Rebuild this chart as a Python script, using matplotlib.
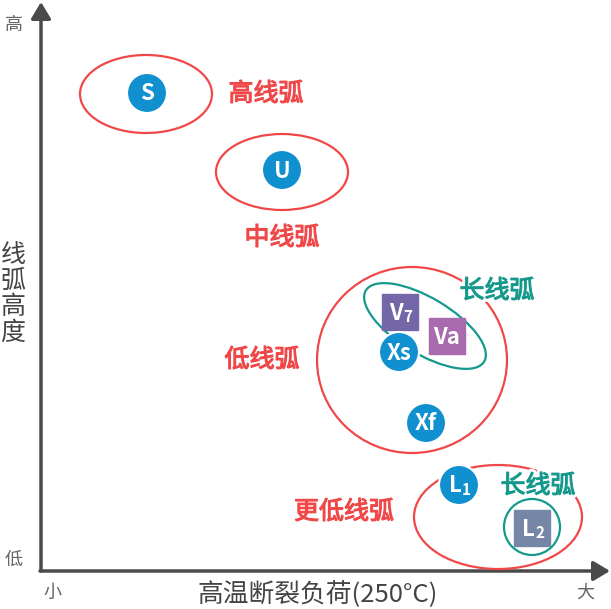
import matplotlib.pyplot as plt
from matplotlib.patches import Ellipse, Circle, Rectangle, FancyArrowPatch
import matplotlib.patheffects as pe

plt.rcParams['font.family'] = ['Noto Sans CJK SC', 'DejaVu Sans']

RED = '#f04848'
TEAL = '#14998c'
BLUE = '#1190d0'
AXIS = '#4a4a4a'

# grade markers: name, subscript, shape, x (load), y (arc height), colour
names = ['S', 'U', 'V', 'V', 'X', 'X', 'L', 'L']
subs = ['', '', '7', 'a', 's', 'f', '1', '2']
shapes = ['o', 'o', 's', 's', 'o', 'o', 'o', 's']
mx = [147, 282, 400, 447, 399, 426, 459, 532]
my = [93, 170, 312, 336, 352, 423, 485, 528]
mcol = [BLUE, BLUE, '#7467a8', '#a96aae', BLUE, BLUE, BLUE, '#7686a6']
# labels sitting in the text after the main letter at full size
inline = [False, False, False, True, True, True, False, False]

# group outlines: x, y, width, height, angle, colour
gx = [146, 282, 412, 425, 498, 532]
gy = [94, 172, 360, 326, 517, 527]
gw = [132, 132, 190, 138, 168, 56]
gh = [78, 76, 186, 56, 104, 56]
ga = [0, 0, 0, 31, 0, 0]
gc = [RED, RED, RED, TEAL, RED, TEAL]

# group labels
lab = ['高线弧', '中线弧', '低线弧', '长线弧', '更低线弧', '长线弧']
lx = [266, 282, 262, 497, 344, 538]
ly = [94, 238, 360, 291, 512, 486]
lc = [RED, RED, RED, TEAL, RED, TEAL]

fig = plt.figure(figsize=(6.11, 6.09), dpi=100)
ax = fig.add_axes([0, 0, 1, 1])
ax.set_xlim(0, 611)
ax.set_ylim(609, 0)
ax.axis('off')

# axes with arrows
ax.add_patch(FancyArrowPatch((41, 571), (41, 2), arrowstyle='-|>,head_length=10,head_width=6',
                             color=AXIS, lw=2.5, shrinkA=0, shrinkB=0))
ax.add_patch(FancyArrowPatch((40, 571), (610, 571), arrowstyle='-|>,head_length=10,head_width=6',
                             color=AXIS, lw=2.5, shrinkA=0, shrinkB=0))

for i in range(len(gx)):
    ax.add_patch(Ellipse((gx[i], gy[i]), gw[i], gh[i], angle=ga[i], fill=False,
                         ec=gc[i], lw=1.6))

for i in range(len(lab)):
    ax.text(lx[i], ly[i], lab[i], color=lc[i], fontsize=18,
            ha='center', va='center',
            path_effects=[pe.Stroke(linewidth=5, foreground='white'),
                          pe.Stroke(linewidth=0.8, foreground=lc[i]), pe.Normal()])

for i in range(len(mx)):
    if shapes[i] == 'o':
        ax.add_patch(Circle((mx[i], my[i]), 20, color=mcol[i], ec='white', lw=1.5))
    else:
        ax.add_patch(Rectangle((mx[i] - 18, my[i] - 18), 36, 36, color=mcol[i]))
    if subs[i] == '':
        ax.text(mx[i], my[i] + 1, names[i], color='white', fontsize=16, fontweight='bold',
                ha='center', va='center')
    elif inline[i]:
        ax.text(mx[i], my[i] + 1, names[i] + subs[i], color='white', fontsize=16,
                fontweight='bold', ha='center', va='center')
    else:
        ax.text(mx[i] + 3, my[i] + 1, names[i], color='white', fontsize=16, fontweight='bold',
                ha='right', va='center')
        ax.text(mx[i] + 3, my[i] + 5, subs[i], color='white', fontsize=11, fontweight='bold',
                ha='left', va='center')

# axis ends and titles
ax.text(14, 25, '高', color='#666666', fontsize=13, ha='center', va='center')
ax.text(14, 560, '低', color='#666666', fontsize=13, ha='center', va='center')
ax.text(52, 593, '小', color='#666666', fontsize=13, ha='center', va='center')
ax.text(585, 593, '大', color='#666666', fontsize=13, ha='center', va='center')
ax.text(13, 294, '线\n弧\n高\n度', color='#444444', fontsize=18,
        ha='center', va='center', linespacing=1.0)
ax.text(318, 595, '高温断裂负荷(250°C)', color='#444444', fontsize=18.5,
        ha='center', va='center')

fig.savefig('out.png', dpi=100)
